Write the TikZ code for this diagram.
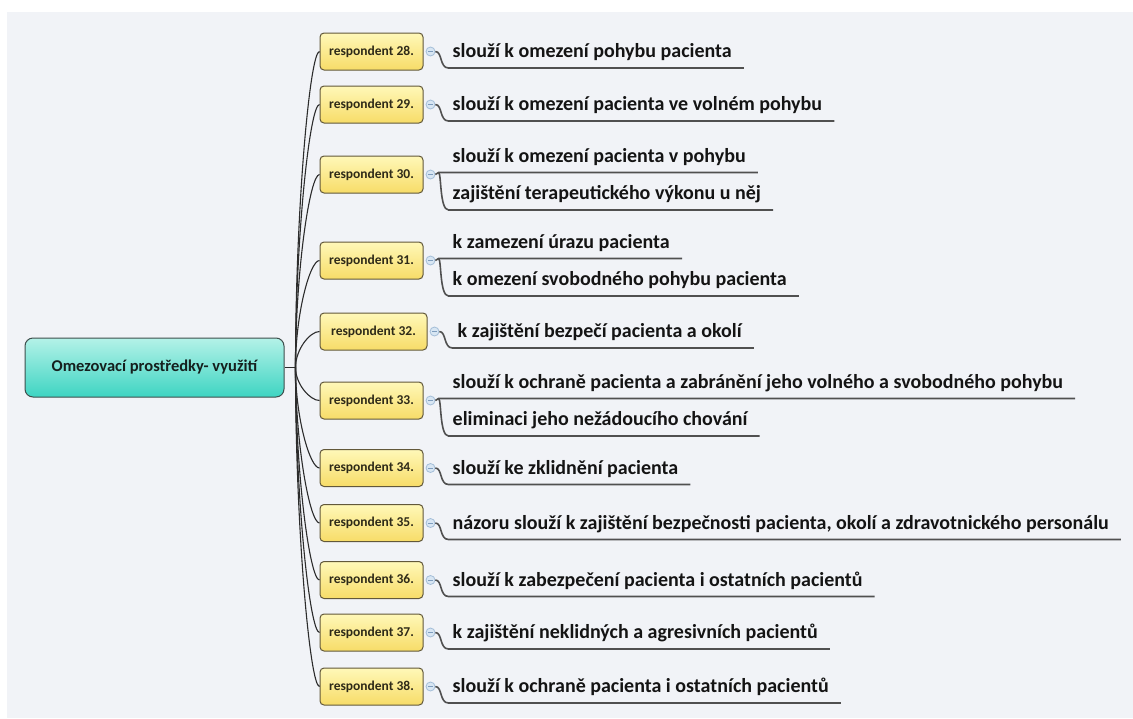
\documentclass[tikz,border=0pt]{standalone}
\usepackage{fontspec}
\setmainfont{Carlito}
\usetikzlibrary{calc}

\definecolor{paper}{HTML}{FFFFFF}
\definecolor{panel}{HTML}{F1F3F7}
\definecolor{roottop}{HTML}{B4F2E8}
\definecolor{rootbot}{HTML}{3ED4C2}
\definecolor{rootedge}{HTML}{3E4E4C}
\definecolor{rootink}{HTML}{15201E}
\definecolor{resptop}{HTML}{FFF8B8}
\definecolor{respbot}{HTML}{F7DC68}
\definecolor{respedge}{HTML}{62583A}
\definecolor{respink}{HTML}{2E2A18}
\definecolor{togfill}{HTML}{D8E6F3}
\definecolor{togedge}{HTML}{A4BED8}
\definecolor{togminus}{HTML}{7E9DBE}
\definecolor{linkink}{HTML}{2C2C2C}
\definecolor{ulink}{HTML}{505050}
\definecolor{ink}{HTML}{141414}

\tikzset{
  rootbox/.style={draw=rootedge, line width=1pt, rounded corners=8pt,
    top color=roottop, bottom color=rootbot,
    minimum width=259pt, minimum height=59pt, inner sep=0pt,
    font=\fontsize{16.5}{18}\selectfont\bfseries, text=rootink},
  respbox/.style={draw=respedge, line width=1pt, rounded corners=4pt,
    top color=resptop, bottom color=respbot,
    minimum width=103pt, minimum height=37pt, inner sep=0pt,
    font=\fontsize{13.5}{15}\selectfont\bfseries, text=respink},
  togglemark/.style={circle, draw=togedge, fill=togfill, line width=0.8pt,
    minimum size=9pt, inner sep=0pt},
  answer/.style={anchor=base west, inner sep=0pt,
    font=\fontsize{20}{22}\selectfont\bfseries, text=ink},
  trunk/.style={draw=linkink, line width=1.1pt},
  underline/.style={draw=ulink, line width=1.6pt},
}

% a respondent box with its collapse toggle
\newcommand\respitem[4][103]{%
  \node[respbox, minimum width=#1pt] (r#2) at ({320+#1/2},#3) {respondent #4};
  \node[togglemark] (c#2) at ($(r#2.east)+(7,0)$) {};
  \draw[togminus, line width=0.8pt] ($(c#2)+(-2.5,0)$) -- ($(c#2)+(2.5,0)$);
  \draw[trunk] (J) .. controls ($(J)!0.5!(J|-r#2.west)$)
      and ($(J|-r#2.west)!0.6!(r#2.west)$) .. (r#2.west);
}

% one answer, underlined, hanging from the toggle
\newcommand\oneanswer[3][22]{%
  \coordinate (u#2) at ($(c#2)+(18,16.5)$);
  \node[answer] (t#2) at ($(c#2)+(#1,6)$) {#3};
  \draw[underline] (c#2.east) .. controls ($(c#2.east)+(7,0)$)
      and ($(u#2)+(-9,0)$) .. (u#2) -- (t#2.east |- u#2) -- ++(12,0);
}

% two answers, the first in line with the toggle, the second below it
\newcommand\twoanswers[3]{%
  \coordinate (u#1a) at ($(c#1)+(8,-2)$);
  \coordinate (u#1b) at ($(c#1)+(18,35.5)$);
  \node[answer] (t#1a) at ($(c#1)+(22,-12.5)$) {#2};
  \node[answer] (t#1b) at ($(c#1)+(22,25)$) {#3};
  \draw[underline] (c#1.east) -- (u#1a) -- (t#1a.east |- u#1a) -- ++(12,0);
  \draw[underline] (u#1a) .. controls ($(u#1a)+(3,0)$)
      and ($(u#1b)+(-9,0)$) .. (u#1b) -- (t#1b.east |- u#1b) -- ++(12,0);
}

\begin{document}
\begin{tikzpicture}[x=1pt, y=-1pt]
  \useasboundingbox (0,0) rectangle (1133,718);
  \fill[paper] (0,0) rectangle (1133,718);
  \fill[panel] (7,12) rectangle (1133,718);

  % central topic
  \node[rootbox] (root) at (154.5,367.5) {Omezovací prostředky- využití};
  \coordinate (J) at ($(root.east)+(11,0)$);
  \draw[trunk] (root.east) -- (J);

  % respondents
  \respitem{28}{51.5}{28.}
  \respitem{29}{104.5}{29.}
  \respitem{30}{174.5}{30.}
  \respitem{31}{260.5}{31.}
  \respitem[107]{32}{331.5}{32.}
  \respitem{33}{400.5}{33.}
  \respitem{34}{468}{34.}
  \respitem{35}{523}{35.}
  \respitem{36}{580}{36.}
  \respitem{37}{632.5}{37.}
  \respitem{38}{686.5}{38.}

  % answers
  \oneanswer{28}{slouží k omezení pohybu pacienta}
  \oneanswer{29}{slouží k omezení pacienta ve volném pohybu}
  \twoanswers{30}{slouží k omezení pacienta v pohybu}{zajištění terapeutického výkonu u něj}
  \twoanswers{31}{k zamezení úrazu pacienta}{k omezení svobodného pohybu pacienta}
  \oneanswer[23]{32}{k zajištění bezpečí pacienta a okolí}
  \twoanswers{33}{slouží k ochraně pacienta a zabránění jeho volného a svobodného pohybu}{eliminaci jeho nežádoucího chování}
  \oneanswer{34}{slouží ke zklidnění pacienta}
  \oneanswer{35}{názoru slouží k zajištění bezpečnosti pacienta, okolí a zdravotnického personálu}
  \oneanswer{36}{slouží k zabezpečení pacienta i ostatních pacientů}
  \oneanswer{37}{k zajištění neklidných a agresivních pacientů}
  \oneanswer{38}{slouží k ochraně pacienta i ostatních pacientů}
\end{tikzpicture}
\end{document}
